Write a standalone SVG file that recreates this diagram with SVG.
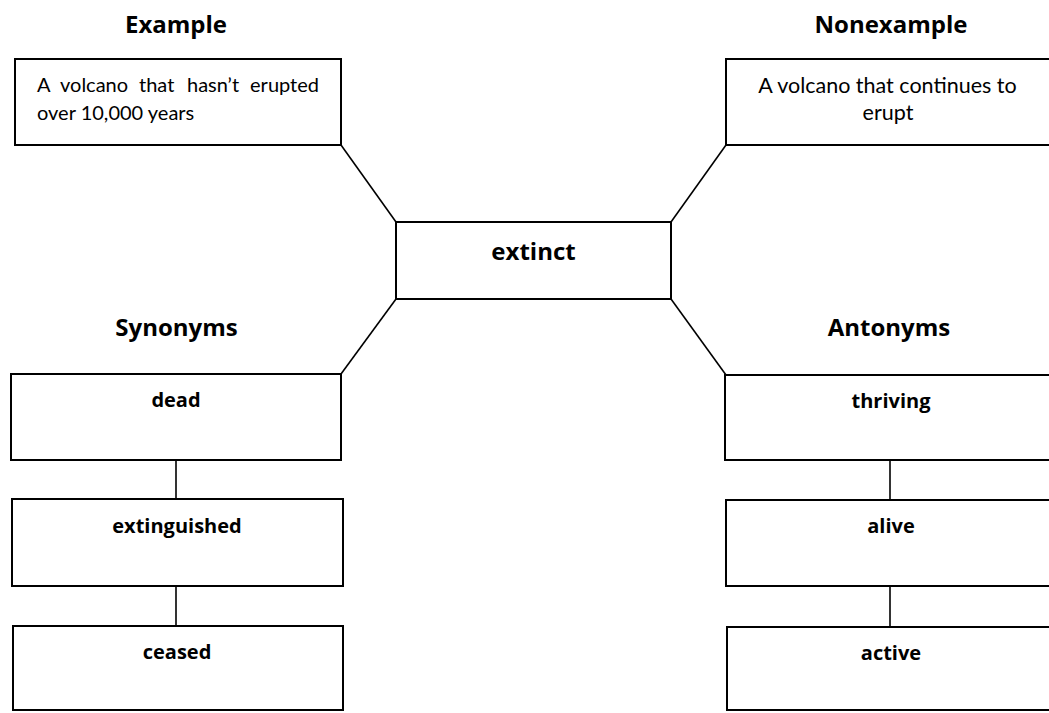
<svg xmlns="http://www.w3.org/2000/svg" width="1049" height="713" viewBox="0 0 1049 713">
<style>
.box{fill:#fff;stroke:#000;stroke-width:2}
.con{stroke:#000;stroke-width:1.6;fill:none}
.title{font-family:"Open Sans","Noto Sans",sans-serif;font-weight:bold;font-size:24px;fill:#000;text-anchor:middle}
.word{font-family:"Open Sans","Noto Sans",sans-serif;font-weight:bold;font-size:20px;fill:#000;text-anchor:middle}
.body{font-family:Lato,"Open Sans",sans-serif;font-size:20px;fill:#000}
.body2{font-family:Lato,"Open Sans",sans-serif;font-size:21.5px;fill:#000;text-anchor:middle}
</style>
<rect width="1049" height="713" fill="#fff"/>
<g id="connectors">
<line class="con" x1="341" y1="145" x2="396" y2="222"/>
<line class="con" x1="726" y1="145" x2="671" y2="222"/>
<line class="con" x1="396" y1="299" x2="341" y2="374"/>
<line class="con" x1="671" y1="299" x2="726" y2="375"/>
<line class="con" x1="176" y1="460" x2="176" y2="499"/>
<line class="con" x1="176" y1="586" x2="176" y2="626"/>
<line class="con" x1="890" y1="460" x2="890" y2="500"/>
<line class="con" x1="890" y1="586" x2="890" y2="627"/>
</g>
<g id="title-example"><text class="title" x="176" y="33">Example</text></g>
<g id="title-nonexample"><text class="title" x="891" y="33">Nonexample</text></g>
<g id="title-synonyms"><text class="title" x="176.5" y="336">Synonyms</text></g>
<g id="title-antonyms"><text class="title" x="889" y="336">Antonyms</text></g>
<g id="example">
<rect class="box" x="15" y="59" width="326" height="86"/>
<text class="body" y="92"><tspan x="37">A</tspan><tspan x="60">volcano</tspan><tspan x="139">that</tspan><tspan x="187">hasn’t</tspan><tspan x="319" text-anchor="end">erupted</tspan></text>
<text class="body" x="37" y="120">over 10,000 years</text>
</g>
<g id="nonexample">
<rect class="box" x="726" y="59" width="325" height="86"/>
<text class="body2" x="887.5" y="93">A volcano that continues to</text>
<text class="body2" x="888" y="120">erupt</text>
</g>
<g id="center">
<rect class="box" x="396" y="222" width="275" height="77"/>
<text class="title" x="533.5" y="260">extinct</text>
</g>
<g id="syn-dead">
<rect class="box" x="11" y="374" width="330" height="86"/>
<text class="word" x="176" y="407">dead</text>
</g>
<g id="syn-extinguished">
<rect class="box" x="12" y="499" width="331" height="87"/>
<text class="word" x="177" y="533">extinguished</text>
</g>
<g id="syn-ceased">
<rect class="box" x="13" y="626" width="330" height="84"/>
<text class="word" x="177" y="659">ceased</text>
</g>
<g id="ant-thriving">
<rect class="box" x="725" y="375" width="326" height="85"/>
<text class="word" x="891" y="408">thriving</text>
</g>
<g id="ant-alive">
<rect class="box" x="726" y="500" width="325" height="86"/>
<text class="word" x="891" y="533">alive</text>
</g>
<g id="ant-active">
<rect class="box" x="727" y="627" width="324" height="83"/>
<text class="word" x="891" y="660">active</text>
</g>
</svg>
